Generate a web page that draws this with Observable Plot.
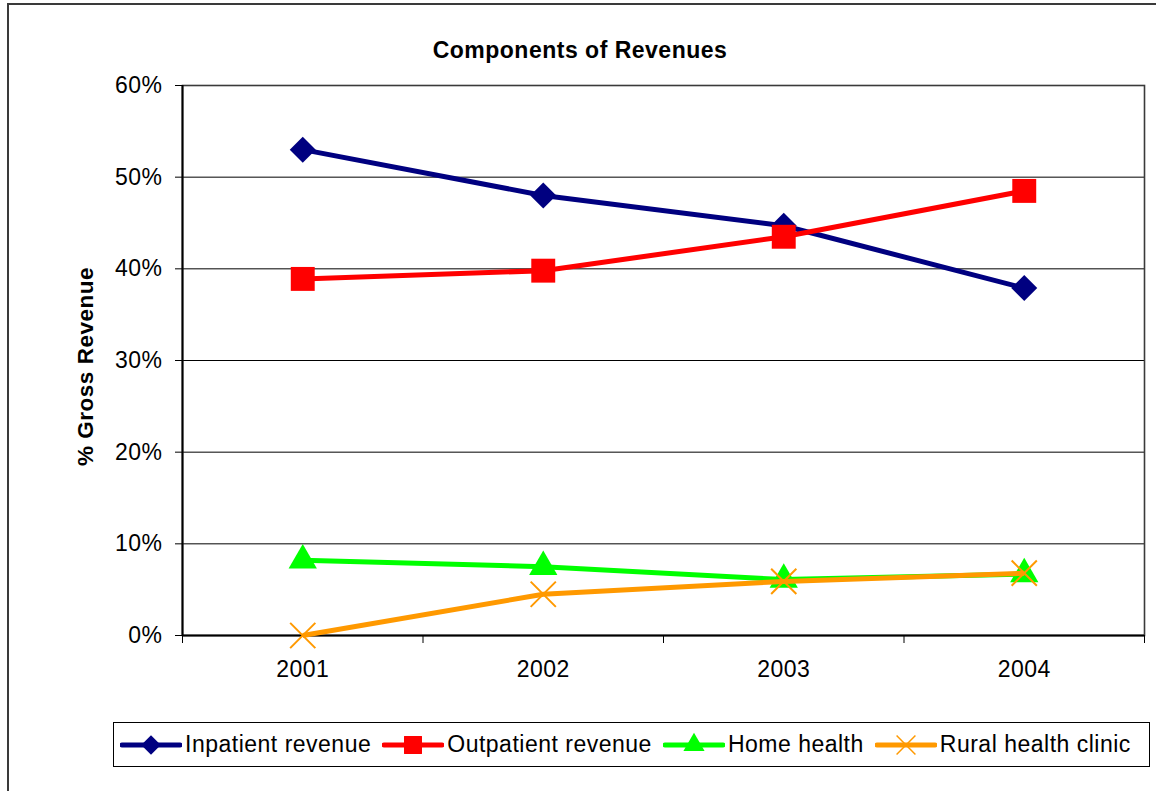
<!DOCTYPE html>
<html>
<head>
<meta charset="utf-8">
<script src="https://cdn.jsdelivr.net/npm/d3@7"></script>
<script src="https://cdn.jsdelivr.net/npm/@observablehq/plot@0.6"></script>
<style>
  body { margin: 0; background: #fff; font-family: "Liberation Sans", Arial, sans-serif; }
  #wrap { position: relative; width: 1156px; height: 791px; overflow: hidden; background: #fff; }
  #chart { position: absolute; left: 0; top: 0; }
  #border { position: absolute; left: 7px; top: 3px; width: 1200px; height: 900px; border: 2px solid #3a3a3a; box-sizing: border-box; pointer-events: none; }
  #title { position: absolute; left: 0; top: 37px; width: 1160px; text-align: center; font-weight: bold; font-size: 23px; letter-spacing: 0.5px; color: #000; }
  #legend { position: absolute; left: 113px; top: 722px; width: 1037px; height: 45px; border: 1px solid #000; box-sizing: border-box; display: flex; align-items: center; padding-left: 6px; font-size: 23px; letter-spacing: 0.5px; color: #000; white-space: nowrap; }
  .item { display: flex; align-items: center; margin-right: 11px; }
  .item svg { margin-right: 3px; }
</style>
</head>
<body>
<div id="wrap">
  <div id="chart"></div>
  <div id="title"></div>
  <div id="legend"></div>
  <div id="border"></div>
</div>
<script>
// ---- data ----
const years = [2001, 2002, 2003, 2004];
const inpatient   = [53.0, 48.0, 44.7, 37.9];
const outpatient  = [38.9, 39.8, 43.5, 48.5];
const homeHealth  = [8.2, 7.5, 6.1, 6.7];
const ruralClinic = [0.0, 4.5, 5.9, 6.8];
const seriesNames = ["Inpatient revenue", "Outpatient revenue", "Home health", "Rural health clinic"];
const yTicks = [0, 10, 20, 30, 40, 50, 60];
const titleText = "Components of Revenues";
const yLabel = "% Gross Revenue";

// ---- styles ----
const colors = ["#000080", "#ff0000", "#00ff00", "#ff9900"];
const symbols = ["diamond2", "square", "triangle", "times"];
const radii = [11.7, 13.5, 10.5, 11.5];
const seriesValues = [inpatient, outpatient, homeHealth, ruralClinic];

const series = seriesNames.map((name, i) => ({
  name, color: colors[i], symbol: symbols[i], r: radii[i],
  data: years.map((year, j) => ({year, value: seriesValues[i][j]}))
}));

const xDomain = [years[0] - 0.5, years[years.length - 1] + 0.5];
const boundaries = d3.range(xDomain[0], xDomain[1] + 0.01, 1);

const marks = [
  Plot.gridY(yTicks, {stroke: "#000", strokeOpacity: 1, strokeWidth: 1}),
  Plot.frame({stroke: "#3a3a3a", strokeWidth: 1.6}),
  Plot.axisY({ticks: yTicks, tickFormat: d => d + "%", tickSize: 7, tickPadding: 13, label: null, stroke: "#000", fill: "#000"}),
  Plot.axisX({ticks: years, tickFormat: d => String(d), tickSize: 0, tickPadding: 25, label: null, fill: "#000"}),
  Plot.axisX({ticks: boundaries, tickFormat: () => "", tickSize: 8, label: null, stroke: "#000"}),
  Plot.ruleX([xDomain[0]], {stroke: "#000", strokeWidth: 2}),
  Plot.ruleY([0], {stroke: "#000", strokeWidth: 2}),
  Plot.text([yLabel], {frameAnchor: "left", textAnchor: "middle", rotate: -90, dx: -97, dy: 6, fontWeight: "bold", fontSize: 22.5, fill: "#000"})
];

for (const s of series) {
  marks.push(Plot.line(s.data, {x: "year", y: "value", stroke: s.color, strokeWidth: 5, strokeLinejoin: "round", strokeLinecap: "butt"}));
  if (s.symbol === "times") {
    marks.push(Plot.dot(s.data, {x: "year", y: "value", symbol: s.symbol, r: s.r, stroke: s.color, strokeWidth: 2, fill: "none"}));
  } else {
    marks.push(Plot.dot(s.data, {x: "year", y: "value", symbol: s.symbol, r: s.r, fill: s.color, stroke: "none"}));
  }
}

const chart = Plot.plot({
  width: 1156,
  height: 791,
  marginLeft: 182,
  marginRight: 12,
  marginTop: 85,
  marginBottom: 156,
  style: {fontFamily: "Liberation Sans, Arial, sans-serif", fontSize: "23px", letterSpacing: "0.5px", color: "#000", background: "transparent", overflow: "visible"},
  x: {type: "linear", domain: xDomain, axis: null},
  y: {domain: [0, 60], axis: null},
  marks
});
document.getElementById("chart").appendChild(chart);

document.getElementById("title").textContent = titleText;

// ---- legend ----
const legend = d3.select("#legend");
const symMap = {diamond2: d3.symbolDiamond2, square: d3.symbolSquare, triangle: d3.symbolTriangle, times: d3.symbolTimes};
series.forEach(s => {
  const item = legend.append("div").attr("class", "item");
  const svg = item.append("svg").attr("width", 62).attr("height", 26);
  svg.append("line").attr("x1", 2).attr("x2", 60).attr("y1", 13).attr("y2", 13)
    .attr("stroke", s.color).attr("stroke-width", 5).attr("stroke-linecap", "round");
  const lr = s.r * 0.75;
  const path = svg.append("path").attr("transform", "translate(31,13)")
    .attr("d", d3.symbol(symMap[s.symbol], Math.PI * lr * lr)());
  if (s.symbol === "times") path.attr("fill", "none").attr("stroke", s.color).attr("stroke-width", 1.5);
  else path.attr("fill", s.color);
  item.append("span").text(s.name);
});
</script>
</body>
</html>
